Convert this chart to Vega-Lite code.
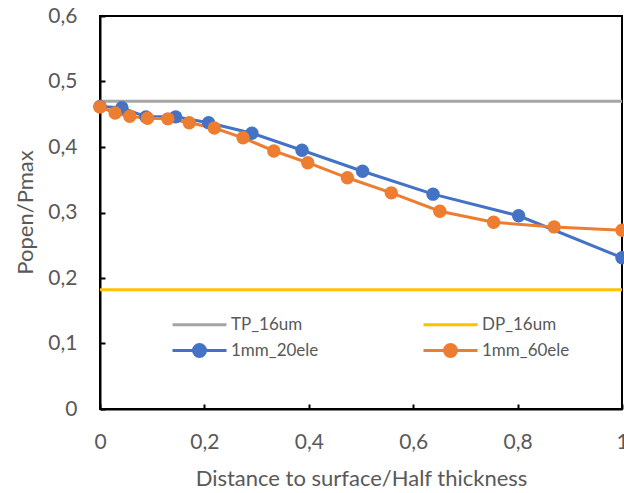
{
  "$schema": "https://vega.github.io/schema/vega-lite/v6.json",
  "width": 522,
  "height": 393,
  "autosize": {"type": "none"},
  "padding": {"left": 100, "top": 16, "right": 2, "bottom": 84},
  "background": "white",
  "config": {
    "view": {"stroke": "black", "strokeWidth": 2},
    "font": "Lato",
    "axis": {
      "grid": false,
      "domainColor": "black",
      "domainWidth": 2,
      "tickColor": "black",
      "tickWidth": 2,
      "tickSize": -5,
      "labelFont": "Lato",
      "labelFontSize": 21,
      "labelColor": "#595959",
      "titleFont": "Lato",
      "titleFontSize": 22,
      "titleFontWeight": "normal",
      "titleColor": "#595959",
      "labelFlush": false,
      "labelOverlap": false,
      "labelBound": false
    }
  },
  "layer": [
    {
      "data": {"values": [
        {"series": "TP_16um", "y": 0.470},
        {"series": "DP_16um", "y": 0.182}
      ]},
      "mark": {"type": "rule", "strokeWidth": 3},
      "encoding": {
        "y": {"field": "y", "type": "quantitative"},
        "color": {"field": "series", "type": "nominal"}
      }
    },
    {
      "data": {"values": [
        {"series": "1mm_20ele", "x": 0.0, "y": 0.462},
        {"series": "1mm_20ele", "x": 0.042, "y": 0.460},
        {"series": "1mm_20ele", "x": 0.088, "y": 0.446},
        {"series": "1mm_20ele", "x": 0.145, "y": 0.446},
        {"series": "1mm_20ele", "x": 0.208, "y": 0.437},
        {"series": "1mm_20ele", "x": 0.291, "y": 0.421},
        {"series": "1mm_20ele", "x": 0.387, "y": 0.395},
        {"series": "1mm_20ele", "x": 0.503, "y": 0.363},
        {"series": "1mm_20ele", "x": 0.638, "y": 0.328},
        {"series": "1mm_20ele", "x": 0.802, "y": 0.295},
        {"series": "1mm_20ele", "x": 1.0, "y": 0.231},
        {"series": "1mm_60ele", "x": 0.0, "y": 0.461},
        {"series": "1mm_60ele", "x": 0.029, "y": 0.452},
        {"series": "1mm_60ele", "x": 0.057, "y": 0.447},
        {"series": "1mm_60ele", "x": 0.091, "y": 0.444},
        {"series": "1mm_60ele", "x": 0.130, "y": 0.443},
        {"series": "1mm_60ele", "x": 0.171, "y": 0.437},
        {"series": "1mm_60ele", "x": 0.219, "y": 0.429},
        {"series": "1mm_60ele", "x": 0.274, "y": 0.414},
        {"series": "1mm_60ele", "x": 0.333, "y": 0.394},
        {"series": "1mm_60ele", "x": 0.398, "y": 0.376},
        {"series": "1mm_60ele", "x": 0.474, "y": 0.353},
        {"series": "1mm_60ele", "x": 0.558, "y": 0.330},
        {"series": "1mm_60ele", "x": 0.651, "y": 0.302},
        {"series": "1mm_60ele", "x": 0.754, "y": 0.285},
        {"series": "1mm_60ele", "x": 0.870, "y": 0.278},
        {"series": "1mm_60ele", "x": 1.0, "y": 0.273}
      ]},
      "mark": {"type": "line", "strokeWidth": 3, "point": {"filled": true, "size": 180, "opacity": 1}},
      "encoding": {
        "x": {
          "field": "x", "type": "quantitative",
          "scale": {"domain": [0, 1], "nice": false},
          "axis": {
            "title": "Distance to surface/Half thickness",
            "values": [0, 0.2, 0.4, 0.6, 0.8, 1],
            "labelExpr": "replace(format(datum.value, '~g'), '.', ',')",
            "labelPadding": 27,
            "titleY": 69,
            "titleBaseline": "middle"
          }
        },
        "y": {
          "field": "y", "type": "quantitative",
          "scale": {"domain": [0, 0.6], "nice": false},
          "axis": {
            "title": "Popen/Pmax",
            "values": [0, 0.1, 0.2, 0.3, 0.4, 0.5, 0.6],
            "labelExpr": "replace(format(datum.value, '~g'), '.', ',')",
            "labelPadding": 28,
            "titleX": -75,
            "titleY": 196,
            "titleBaseline": "middle",
            "titleAlign": "center",
            "titleAngle": -90
          }
        },
        "color": {
          "field": "series", "type": "nominal",
          "scale": {
            "domain": ["TP_16um", "DP_16um", "1mm_20ele", "1mm_60ele"],
            "range": ["#A5A5A5", "#FFC000", "#4472C4", "#ED7D31"]
          },
          "legend": {
            "title": null,
            "orient": "none",
            "direction": "horizontal",
            "legendX": 88,
            "legendY": 297,
            "columns": 2,
            "padding": 0,
            "columnPadding": 98,
            "rowPadding": 5,
            "symbolSize": 400,
            "symbolStrokeWidth": 3,
            "labelOffset": 20,
            "labelFont": "Lato",
            "labelFontSize": 17,
            "labelColor": "#595959",
            "encode": {
              "symbols": {
                "update": {
                  "shape": {"signal": "indexof(['TP_16um','DP_16um'], datum.value) >= 0 ? 'M-2.7,0H2.7' : 'M-2.7,0H2.7M0.6,0A0.6,0.6 0 1,1 -0.6,0A0.6,0.6 0 1,1 0.6,0Z'"},
                  "stroke": {"signal": "scale('color', datum.value)"},
                  "fill": {"signal": "scale('color', datum.value)"},
                  "strokeWidth": {"value": 3},
                  "opacity": {"value": 1}
                }
              }
            }
          }
        }
      }
    }
  ]
}
